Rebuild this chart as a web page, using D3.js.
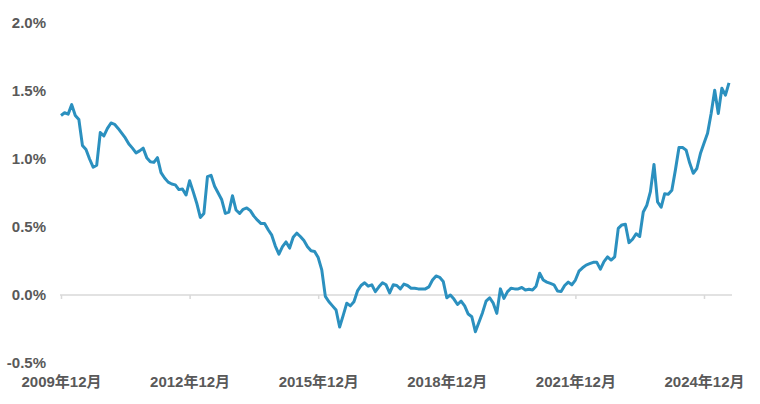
<!DOCTYPE html>
<html>
<head>
<meta charset="utf-8">
<script src="https://cdn.jsdelivr.net/npm/d3@7"></script>
<style>
  body { margin: 0; background: #fff; }
  text { font-family: "Liberation Sans", "Noto Sans CJK JP", sans-serif; font-weight: bold; fill: #595959; }
</style>
</head>
<body>
<div id="chart"></div>
<script>
// monthly values (%), 2009-12 .. 2025-07
var startYear = 2009, startMonth = 12;
var values = [
  1.32,                                                                  // 2009
  1.34, 1.33, 1.40, 1.32, 1.29, 1.10, 1.07, 1.00, 0.94, 0.955, 1.195, 1.17,   // 2010
  1.225, 1.265, 1.255, 1.225, 1.19, 1.155, 1.11, 1.08, 1.045, 1.06, 1.08, 1.01, // 2011
  0.98, 0.975, 1.01, 0.90, 0.86, 0.83, 0.816, 0.81, 0.775, 0.78, 0.735, 0.84,   // 2012
  0.76, 0.675, 0.57, 0.60, 0.87, 0.88, 0.80, 0.75, 0.70, 0.60, 0.61, 0.73,      // 2013
  0.625, 0.60, 0.63, 0.64, 0.62, 0.58, 0.55, 0.525, 0.525, 0.48, 0.44, 0.36,   // 2014
  0.30, 0.355, 0.39, 0.345, 0.425, 0.455, 0.43, 0.40, 0.355, 0.325, 0.32, 0.275, // 2015
  0.185, -0.01, -0.05, -0.08, -0.11, -0.235, -0.15, -0.06, -0.08, -0.05, 0.03, 0.07, // 2016
  0.09, 0.065, 0.075, 0.025, 0.06, 0.09, 0.075, 0.015, 0.075, 0.07, 0.045, 0.08,  // 2017
  0.07, 0.05, 0.05, 0.045, 0.045, 0.045, 0.06, 0.11, 0.14, 0.13, 0.10, -0.02,    // 2018
  0.00, -0.03, -0.07, -0.045, -0.08, -0.14, -0.16, -0.27, -0.20, -0.13, -0.045, -0.02, // 2019
  -0.06, -0.135, 0.045, -0.025, 0.025, 0.05, 0.045, 0.045, 0.055, 0.037, 0.042, 0.037, // 2020
  0.065, 0.16, 0.11, 0.095, 0.085, 0.075, 0.03, 0.025, 0.07, 0.095, 0.075, 0.11,  // 2021
  0.175, 0.20, 0.22, 0.23, 0.24, 0.24, 0.19, 0.245, 0.28, 0.257, 0.28, 0.49,     // 2022
  0.515, 0.52, 0.385, 0.41, 0.45, 0.43, 0.61, 0.66, 0.76, 0.96, 0.685, 0.645,    // 2023
  0.745, 0.74, 0.77, 0.92, 1.085, 1.085, 1.065, 0.97, 0.895, 0.93, 1.04, 1.115,  // 2024
  1.19, 1.335, 1.505, 1.335, 1.52, 1.47, 1.56                                   // 2025
];
var yTicks = [-0.5, 0, 0.5, 1.0, 1.5, 2.0];
var xTickLabels = ["2009年12月", "2012年12月", "2015年12月", "2018年12月", "2021年12月", "2024年12月"];
var xTickStep = 36;

var width = 760, height = 404;
var margin = {top: 23, right: 28, bottom: 41, left: 61};

var months = values.map(function(v, i) {
  var m = startMonth - 1 + i;
  return (startYear + Math.floor(m / 12)) + "年" + (m % 12 + 1) + "月";
});
var data = values.map(function(v, i) { return {label: months[i], v: v}; });

var svg = d3.select("#chart").append("svg")
  .attr("width", width).attr("height", height);

var x = d3.scalePoint()
  .domain(months)
  .range([margin.left, width - margin.right - 3]);

var y = d3.scaleLinear()
  .domain([-0.5, 2.0])
  .range([height - margin.bottom, margin.top]);

// zero line
svg.append("line")
  .attr("x1", x(months[0]) - 1)
  .attr("x2", width - margin.right)
  .attr("y1", y(0)).attr("y2", y(0))
  .attr("stroke", "#d9d9d9")
  .attr("stroke-width", 1.5);

// x axis ticks + labels
var xTickVals = xTickLabels.map(function(d, i) { return months[i * xTickStep]; });
var xAxis = svg.append("g")
  .attr("transform", "translate(0," + y(0) + ")")
  .call(d3.axisBottom(x)
    .tickValues(xTickVals)
    .tickSize(4)
    .tickSizeOuter(0)
    .tickPadding(y(-0.5) - y(0) + 9)
    .tickFormat(function(d, i) { return xTickLabels[i]; }));
xAxis.select(".domain").remove();
xAxis.selectAll(".tick line").attr("stroke", "#d9d9d9").attr("stroke-width", 1.5);
xAxis.selectAll("text").style("font-size", "15px").attr("fill", "#595959");

// y axis labels
var yAxis = svg.append("g")
  .attr("transform", "translate(" + 46 + ",0)")
  .call(d3.axisLeft(y)
    .tickValues(yTicks)
    .tickSize(0)
    .tickPadding(0)
    .tickFormat(function(d) { return d.toFixed(1) + "%"; }));
yAxis.select(".domain").remove();
yAxis.selectAll("text").style("font-size", "15px").attr("fill", "#595959");

// line
var line = d3.line()
  .x(function(d) { return x(d.label); })
  .y(function(d) { return y(d.v); });

svg.append("path")
  .datum(data)
  .attr("fill", "none")
  .attr("stroke", "#2b90bf")
  .attr("stroke-width", 3)
  .attr("stroke-linejoin", "round")
  .attr("d", line);
</script>
</body>
</html>
